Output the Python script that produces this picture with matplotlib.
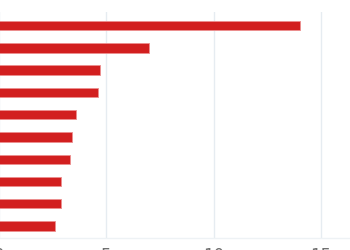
import matplotlib
matplotlib.use("Agg")
import matplotlib.pyplot as plt

# bar values, top to bottom
categories = ['A', 'B', 'C', 'D', 'E', 'F', 'G', 'H', 'I', 'J']
values = [14.0, 7.0, 4.7, 4.6, 3.6, 3.4, 3.3, 2.9, 2.9, 2.6]
xticks = [0, 5, 10, 15]

fig = plt.figure(figsize=(3.5, 2.5), dpi=100)
ax = fig.add_axes([-1 / 350, 12 / 250, 351 / 350, 226 / 250])

ypos = list(range(len(categories)))
ax.barh(ypos, values, height=0.42, color='#d21f1f', edgecolor='#ec8f8f',
        linewidth=0.6, zorder=3)

ax.set_xlim(0, 16.35)
ax.set_ylim(9.54, -0.61)
ax.set_xticks(xticks)
ax.set_xticklabels([str(t) for t in xticks])
ax.set_yticks([])

ax.grid(axis='x', color='#e6ecf1', linewidth=1, zorder=0)
for s in ['top', 'right', 'left']:
    ax.spines[s].set_visible(False)
ax.spines['bottom'].set_color('#eef2f5')
ax.spines['bottom'].set_linewidth(1)
ax.tick_params(axis='x', length=0, pad=6.5, labelsize=12, labelcolor='#707070')

fig.savefig('out.png', dpi=100)
